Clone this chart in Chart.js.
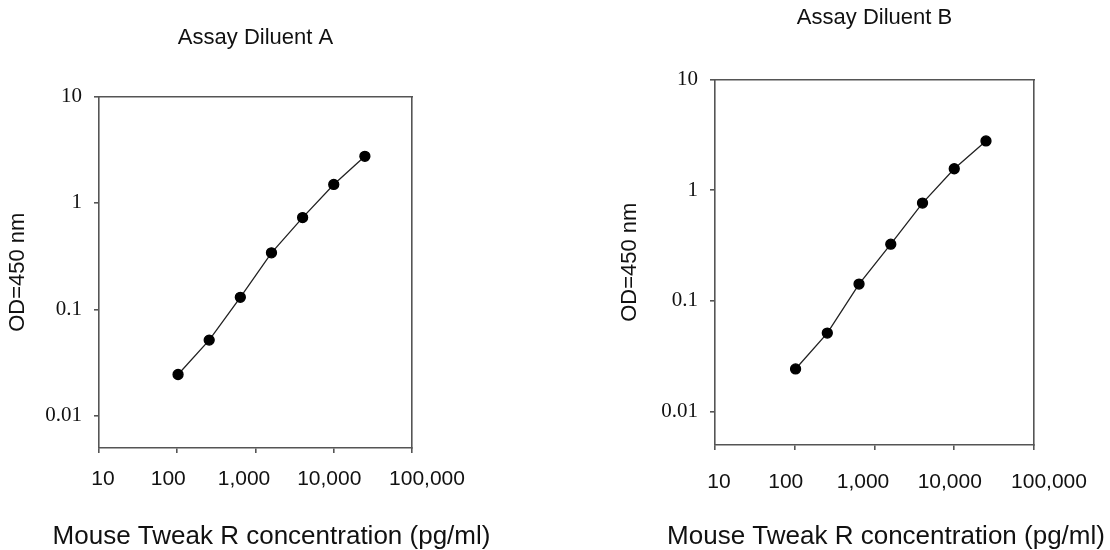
<!DOCTYPE html>
<html>
<head>
<meta charset="utf-8">
<script src="https://cdn.jsdelivr.net/npm/chart.js@4.4.1/dist/chart.umd.min.js"></script>
<style>
  html, body { margin: 0; padding: 0; background: #fff; overflow: hidden; width: 1110px; height: 550px; }
  canvas { position: absolute; top: 0; }
  #chartA { left: 0px; }
  #chartB { left: 600px; }
</style>
</head>
<body>
<canvas id="chartA" width="543" height="550"></canvas>
<canvas id="chartB" width="572" height="550"></canvas>
<script>
// ================= DATA =================
const concentrations = [102.4, 256, 640, 1600, 4000, 10000, 25000];
const odDiluentA = [0.0245, 0.0515, 0.130, 0.340, 0.728, 1.49, 2.74];
const odDiluentB = [0.0243, 0.0512, 0.142, 0.325, 0.764, 1.56, 2.78];
const xTicks = [10, 100, 1000, 10000, 100000];
const yTicks = [0.01, 0.1, 1, 10];
const titleA = "Assay Diluent A";
const titleB = "Assay Diluent B";
const xTitle = "Mouse Tweak R concentration (pg/ml)";
const yTitle = "OD=450 nm";

// ================= STYLE =================
const AXIS = "#555";
const INK = "#111";
// the source figure sets its x labels slightly off the tick marks
const xLabelNudge = [4, -9, -11.5, -4.5, 15];

const nudgeLabels = {
  id: "nudgeLabels",
  beforeDraw(chart) {
    const s = chart.scales.x;
    const items = s.getLabelItems();
    items.forEach((it, i) => { it.options.translation[0] += xLabelNudge[i] || 0; });
  }
};

// ================= CHART BUILDER =================
function makeChart(id, title, values, lay) {
  const pts = concentrations.map((c, i) => ({ x: c, y: values[i] }));
  return new Chart(document.getElementById(id), {
    type: "line",
    plugins: [nudgeLabels],
    data: {
      datasets: [{
        data: pts,
        borderColor: "#222",
        borderWidth: 1.3,
        pointRadius: 5,
        pointBackgroundColor: "#000",
        pointBorderColor: "#000",
        tension: 0,
        fill: false
      }]
    },
    options: {
      responsive: false,
      animation: false,
      layout: { padding: 0 },
      plugins: {
        legend: { display: false },
        tooltip: { enabled: false },
        title: {
          display: true, text: title, fullSize: false, color: INK,
          font: { family: "Liberation Sans", size: 22, weight: "normal", lineHeight: 1.2 },
          padding: { top: lay.titleTop, bottom: lay.titleBottom }
        },
        subtitle: {
          display: true, text: xTitle, position: "bottom", color: INK,
          font: { family: "Liberation Sans", size: 26, weight: "normal", lineHeight: 1 },
          padding: { top: lay.subTop, bottom: 0 }
        }
      },
      scales: {
        x: {
          type: "logarithmic", min: 10, max: 100000,
          afterBuildTicks: s => { s.ticks = xTicks.map(v => ({ value: v })); },
          afterFit: s => { s.height = 50; },
          ticks: {
            autoSkip: false, maxRotation: 0, color: INK, padding: lay.xTickPad,
            font: { family: "Liberation Sans", size: 21 },
            callback: v => Number(v).toLocaleString("en-US")
          },
          grid: { drawOnChartArea: false, drawTicks: true, tickLength: 5, color: AXIS, lineWidth: 1.6 },
          border: { display: true, color: AXIS, width: 1.6 }
        },
        y: {
          type: "logarithmic", min: 0.005, max: 10,
          afterBuildTicks: s => { s.ticks = yTicks.map(v => ({ value: v })); },
          afterFit: s => { s.width = lay.yWidth; },
          ticks: {
            autoSkip: false, color: INK, padding: 12,
            font: { family: "Liberation Serif", size: 21 },
            callback: v => String(v)
          },
          title: {
            display: true, text: yTitle, color: INK,
            font: { family: "Liberation Sans", size: 22, lineHeight: 1.2 },
            padding: { top: lay.yTitlePad, bottom: 0 }
          },
          grid: { drawOnChartArea: false, drawTicks: true, tickLength: 5, color: AXIS, lineWidth: 1.6 },
          border: { display: true, color: AXIS, width: 1.6 }
        },
        xTop: {
          type: "linear", position: "top", display: true,
          afterFit: s => { s.height = 0; },
          ticks: { display: false },
          grid: { display: false, drawTicks: false },
          border: { display: true, color: AXIS, width: 1.6 }
        },
        yRight: {
          type: "linear", position: "right", display: true,
          afterFit: s => { s.width = lay.rightWidth; },
          ticks: { display: false },
          grid: { display: false, drawTicks: false },
          border: { display: true, color: AXIS, width: 1.6 }
        }
      }
    }
  });
}

// ================= INIT =================
makeChart("chartA", titleA, odDiluentA, {
  rightWidth: 131, titleTop: 25, titleBottom: 45, subTop: 26, yWidth: 99, yTitlePad: 5, xTickPad: 14
});
makeChart("chartB", titleB, odDiluentB, {
  rightWidth: 138, titleTop: 5, titleBottom: 48, subTop: 29, yWidth: 115, yTitlePad: 17, xTickPad: 20
});
</script>
</body>
</html>
